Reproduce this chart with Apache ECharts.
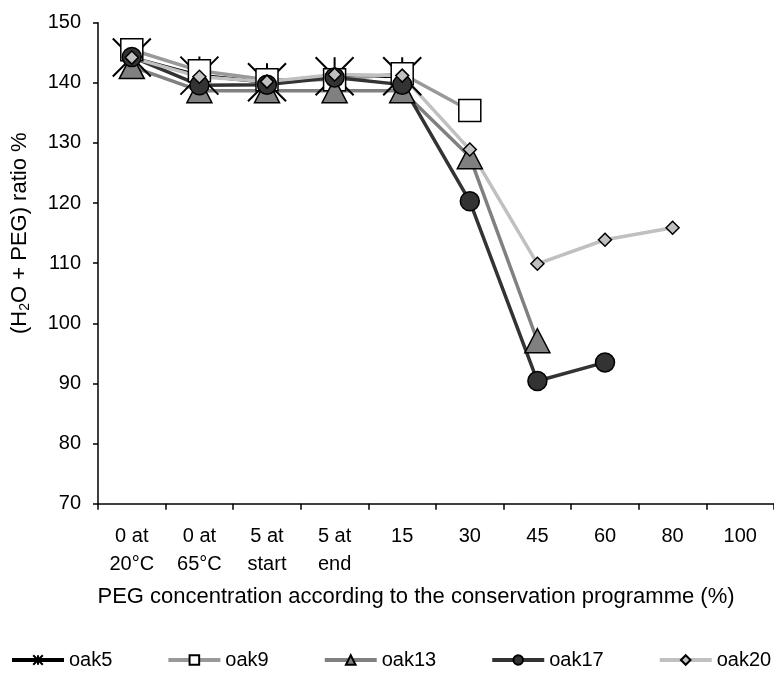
<!DOCTYPE html>
<html>
<head>
<meta charset="utf-8">
<script src="https://cdn.jsdelivr.net/npm/echarts@6/dist/echarts.min.js"></script>
<style>
html,body{margin:0;padding:0;background:#fff;}
#chart{width:774px;height:674px;}
</style>
</head>
<body>
<div id="chart"></div>
<script>
var categories = ['0 at\n20°C', '0 at\n65°C', '5 at\nstart', '5 at\nend', '15', '30', '45', '60', '80', '100'];
var yTicks = { min: 70, max: 150, interval: 10 };
var oak5  = [144.2, 141.2, 140.1, 141.1, 141.1];
var oak9  = [145.5, 142.0, 140.5, 140.5, 141.5, 135.4];
var oak13 = [142.7, 138.7, 138.7, 138.7, 138.7, 127.7, 97.1];
var oak17 = [144.3, 139.6, 139.7, 140.9, 139.7, 120.3, 90.4, 93.5];
var oak20 = [144.2, 141.0, 140.2, 141.4, 141.2, 128.9, 109.9, 113.9, 115.9];

var FONT = 'Liberation Sans, Arial, sans-serif';
var chart = echarts.init(document.getElementById('chart'), null, {renderer: 'canvas'});

function mk(name, data, lineColor, symbol, size, fill, extra) {
  var s = {
    name: name, type: 'line', data: data,
    symbol: symbol, symbolSize: size,
    showAllSymbol: true,
    lineStyle: { color: lineColor, width: 3.5 },
    itemStyle: { color: fill, borderColor: '#000', borderWidth: 1.5 },
    emphasis: { disabled: true },
    animation: false
  };
  if (extra) Object.assign(s, extra);
  return s;
}

var option = {
  backgroundColor: '#fff',
  animation: false,
  textStyle: { fontFamily: FONT },
  grid: { left: 98, top: 22.7, width: 680, height: 481, containLabel: false },
  xAxis: {
    type: 'category',
    data: categories,
    boundaryGap: true,
    axisLine: { lineStyle: { color: '#000', width: 1.5 } },
    axisTick: { show: true, length: 6, inside: false, lineStyle: { color: '#000', width: 1.5 } },
    axisLabel: { color: '#000', fontSize: 20, fontFamily: FONT, margin: 19, lineHeight: 28, interval: 0 },
    name: 'PEG concentration according to the conservation programme (%)',
    nameLocation: 'middle',
    nameGap: 82,
    nameTextStyle: { color: '#000', fontSize: 22, fontFamily: FONT, padding: [0, 40, 0, 0] }
  },
  yAxis: {
    type: 'value',
    min: yTicks.min, max: yTicks.max, interval: yTicks.interval,
    splitLine: { show: false },
    axisLine: { show: true, lineStyle: { color: '#000', width: 1.5 } },
    axisTick: { show: true, length: 5, lineStyle: { color: '#000', width: 1.5 } },
    axisLabel: { color: '#000', fontSize: 20, fontFamily: FONT, margin: 17 },
    name: '(H{sub|2}O + PEG) ratio %',
    nameLocation: 'middle',
    nameGap: 66,
    nameRotate: 90,
    nameTextStyle: {
      color: '#000', fontSize: 22, fontFamily: FONT, padding: [0, 0, 0, 60],
      rich: { sub: { fontSize: 14, verticalAlign: 'bottom', color: '#000', fontFamily: FONT, padding: [10, 0, 0, 0] } }
    }
  },
  legend: {
    bottom: 4, left: 10, width: 770, padding: 0,
    itemGap: 54, itemWidth: 52, itemHeight: 12,
    lineStyle: { width: 4 },
    textStyle: { color: '#000', fontSize: 20, fontFamily: FONT },
    data: ['oak5', 'oak9', 'oak13', 'oak17', 'oak20']
  },
  series: [
    mk('oak5', oak5, '#000', 'path://M0,0L10,10M10,0L0,10M5,0L5,10', 38, 'none', {
      itemStyle: { color: 'none', borderColor: '#000', borderWidth: 2 }
    }),
    mk('oak9', oak9, '#999999', 'rect', 22, '#ffffff'),
    mk('oak13', oak13, '#808080', 'triangle', [25, 24], '#808080'),
    mk('oak17', oak17, '#333333', 'circle', 19, '#333333'),
    mk('oak20', oak20, '#c0c0c0', 'diamond', 13, '#c0c0c0')
  ]
};
chart.setOption(option);
</script>
</body>
</html>
